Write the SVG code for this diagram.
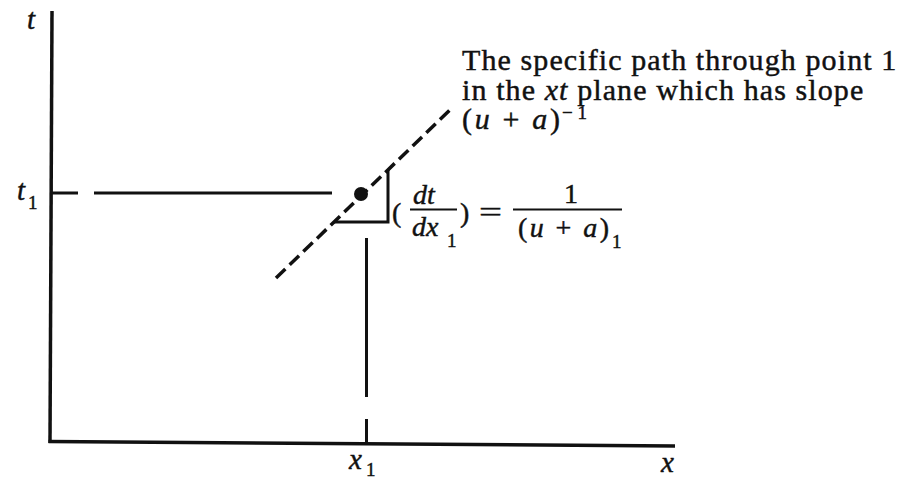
<svg xmlns="http://www.w3.org/2000/svg" width="904" height="479" viewBox="0 0 904 479">
<style>
.ax{stroke:#111;stroke-width:3.5;fill:none;stroke-linecap:butt}
.ln{stroke:#111;stroke-width:3;fill:none;stroke-linecap:butt}
.dash{stroke:#111;stroke-width:3.5;fill:none;stroke-dasharray:13 6}
.bar{stroke:#111;stroke-width:2;fill:none}
text{font-family:"Liberation Serif","Times New Roman",serif;fill:#111;stroke:#111;stroke-width:0.45px}
.it{font-style:italic}
.desc{font-size:30px;letter-spacing:1.1px}
.m{font-size:28px}
.sub{font-size:19px}
</style>
<rect width="904" height="479" fill="#fff"/>
<g id="axes">
<path class="ax" d="M52 11 L50 443"/>
<path class="ax" d="M48.5 441.5 L675 446"/>
<text class="it" x="27" y="29" style="font-size:29px">t</text>
<text class="it" x="661" y="472" style="font-size:29px">x</text>
</g>
<g id="connectors">
<path class="ln" d="M52 193 L78 193 M94 193 L332 193"/>
<path class="ln" d="M366.5 238 L366.5 397 M366.5 419 L366.5 444"/>
<path class="dash" d="M276 278 L452 108"/>
<path class="ln" d="M334 222 L388 222 L388 170"/>
</g>
<g id="point1">
<circle cx="361" cy="194" r="7" fill="#111"/>
</g>
<g id="t1-label">
<text class="it" x="17" y="200" style="font-size:29px">t</text>
<text class="sub" x="28" y="209">1</text>
</g>
<g id="x1-label">
<text class="it" x="349" y="469" style="font-size:29px">x</text>
<text class="sub" x="366" y="476">1</text>
</g>
<g id="slope-formula">
<text class="m" x="392" y="222">(</text>
<text class="m it" x="413" y="204">dt</text>
<line class="bar" x1="410" y1="209.5" x2="457" y2="209.5"/>
<text class="m it" x="412" y="236">dx</text>
<text class="sub" x="447" y="247">1</text>
<text class="m" x="460" y="222">)</text>
<text class="m" x="479" y="221" textLength="23" lengthAdjust="spacingAndGlyphs">=</text>
<text class="m" x="564" y="203">1</text>
<line class="bar" x1="513" y1="209.5" x2="622" y2="209.5"/>
<text class="m" x="518" y="237" textLength="91" lengthAdjust="spacing">(<tspan class="it">u</tspan> + <tspan class="it">a</tspan>)</text>
<text class="sub" x="612" y="248">1</text>
</g>
<g id="description">
<text class="desc" x="462" y="70">The specific path through point 1</text>
<text class="desc" x="462" y="100">in the <tspan class="it">xt</tspan> plane which has slope</text>
<text class="desc" x="462" y="129" textLength="98" lengthAdjust="spacing" style="letter-spacing:0">(<tspan class="it">u</tspan> + <tspan class="it">a</tspan>)</text>
<text class="sub" x="562" y="119">− 1</text>
</g>
</svg>
